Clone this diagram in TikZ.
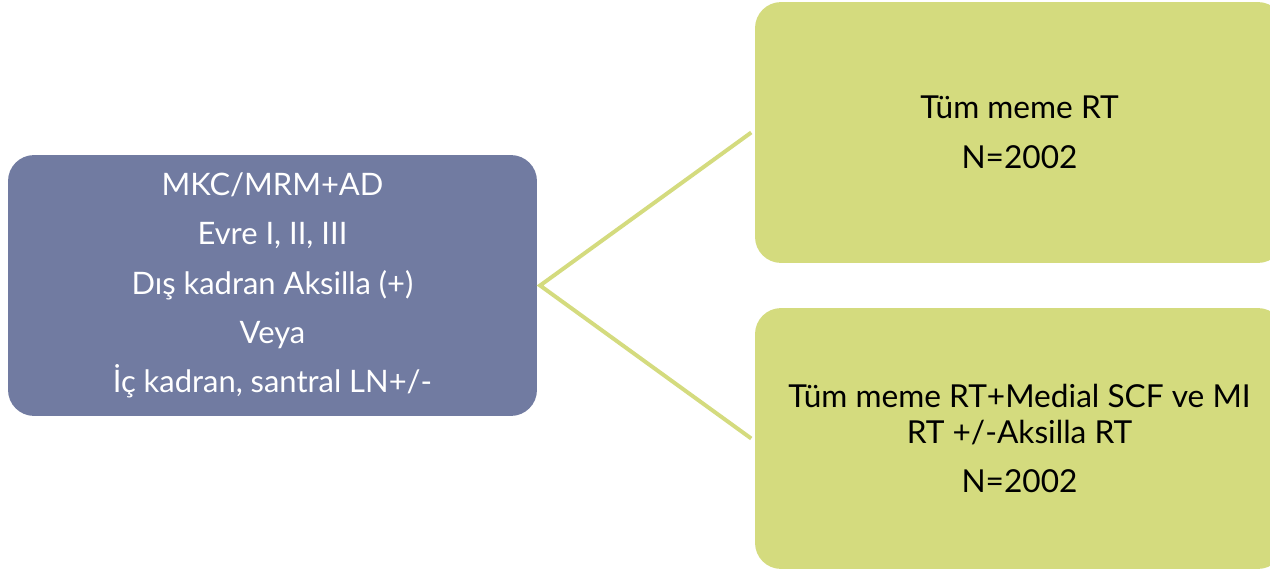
\documentclass[tikz,border=0pt]{standalone}
\usepackage{fontspec}
\setmainfont{Lato}
\usepackage{tikz}
\definecolor{slate}{RGB}{113,123,161}
\definecolor{olive}{RGB}{212,219,126}
\tikzstyle{mainbox} = [rectangle, rounded corners=0.65cm, inner sep=0pt, minimum width=13.22cm, minimum height=6.52cm, align=center]
\tikzstyle{link} = [draw=olive, line width=2.8pt, line join=miter]

\begin{document}
\begin{tikzpicture}[x=0.025cm, y=0.025cm]
	\clip (0,0) rectangle (1270,568);
	\fill[white] (0,0) rectangle (1270,568);
	
	\node[mainbox, fill=slate, text=white, font=\fontsize{22}{35}\selectfont] (start) at (272.5, 282.5) {MKC/MRM+AD\\Evre I, II, III\\Dış kadran Aksilla (+)\\Veya\\İç kadran, santral LN+/-};
	\node[mainbox, fill=olive, text=black, font=\fontsize{22.5}{35.5}\selectfont] (whole) at (1019.5, 435.5) {Tüm meme RT\\N=2002};
	\node[mainbox, fill=olive, text=black, font=\fontsize{22.5}{25.5}\selectfont] (nodal) at (1019.5, 129.5) {Tüm meme RT+Medial SCF ve MI\\RT +/-Aksilla RT\\[9pt]N=2002};
	
	\draw[link] ([xshift=-2.5pt] whole.west) -- ([xshift=2pt] start.east) -- ([xshift=-2.5pt] nodal.west);
\end{tikzpicture}
\end{document}
